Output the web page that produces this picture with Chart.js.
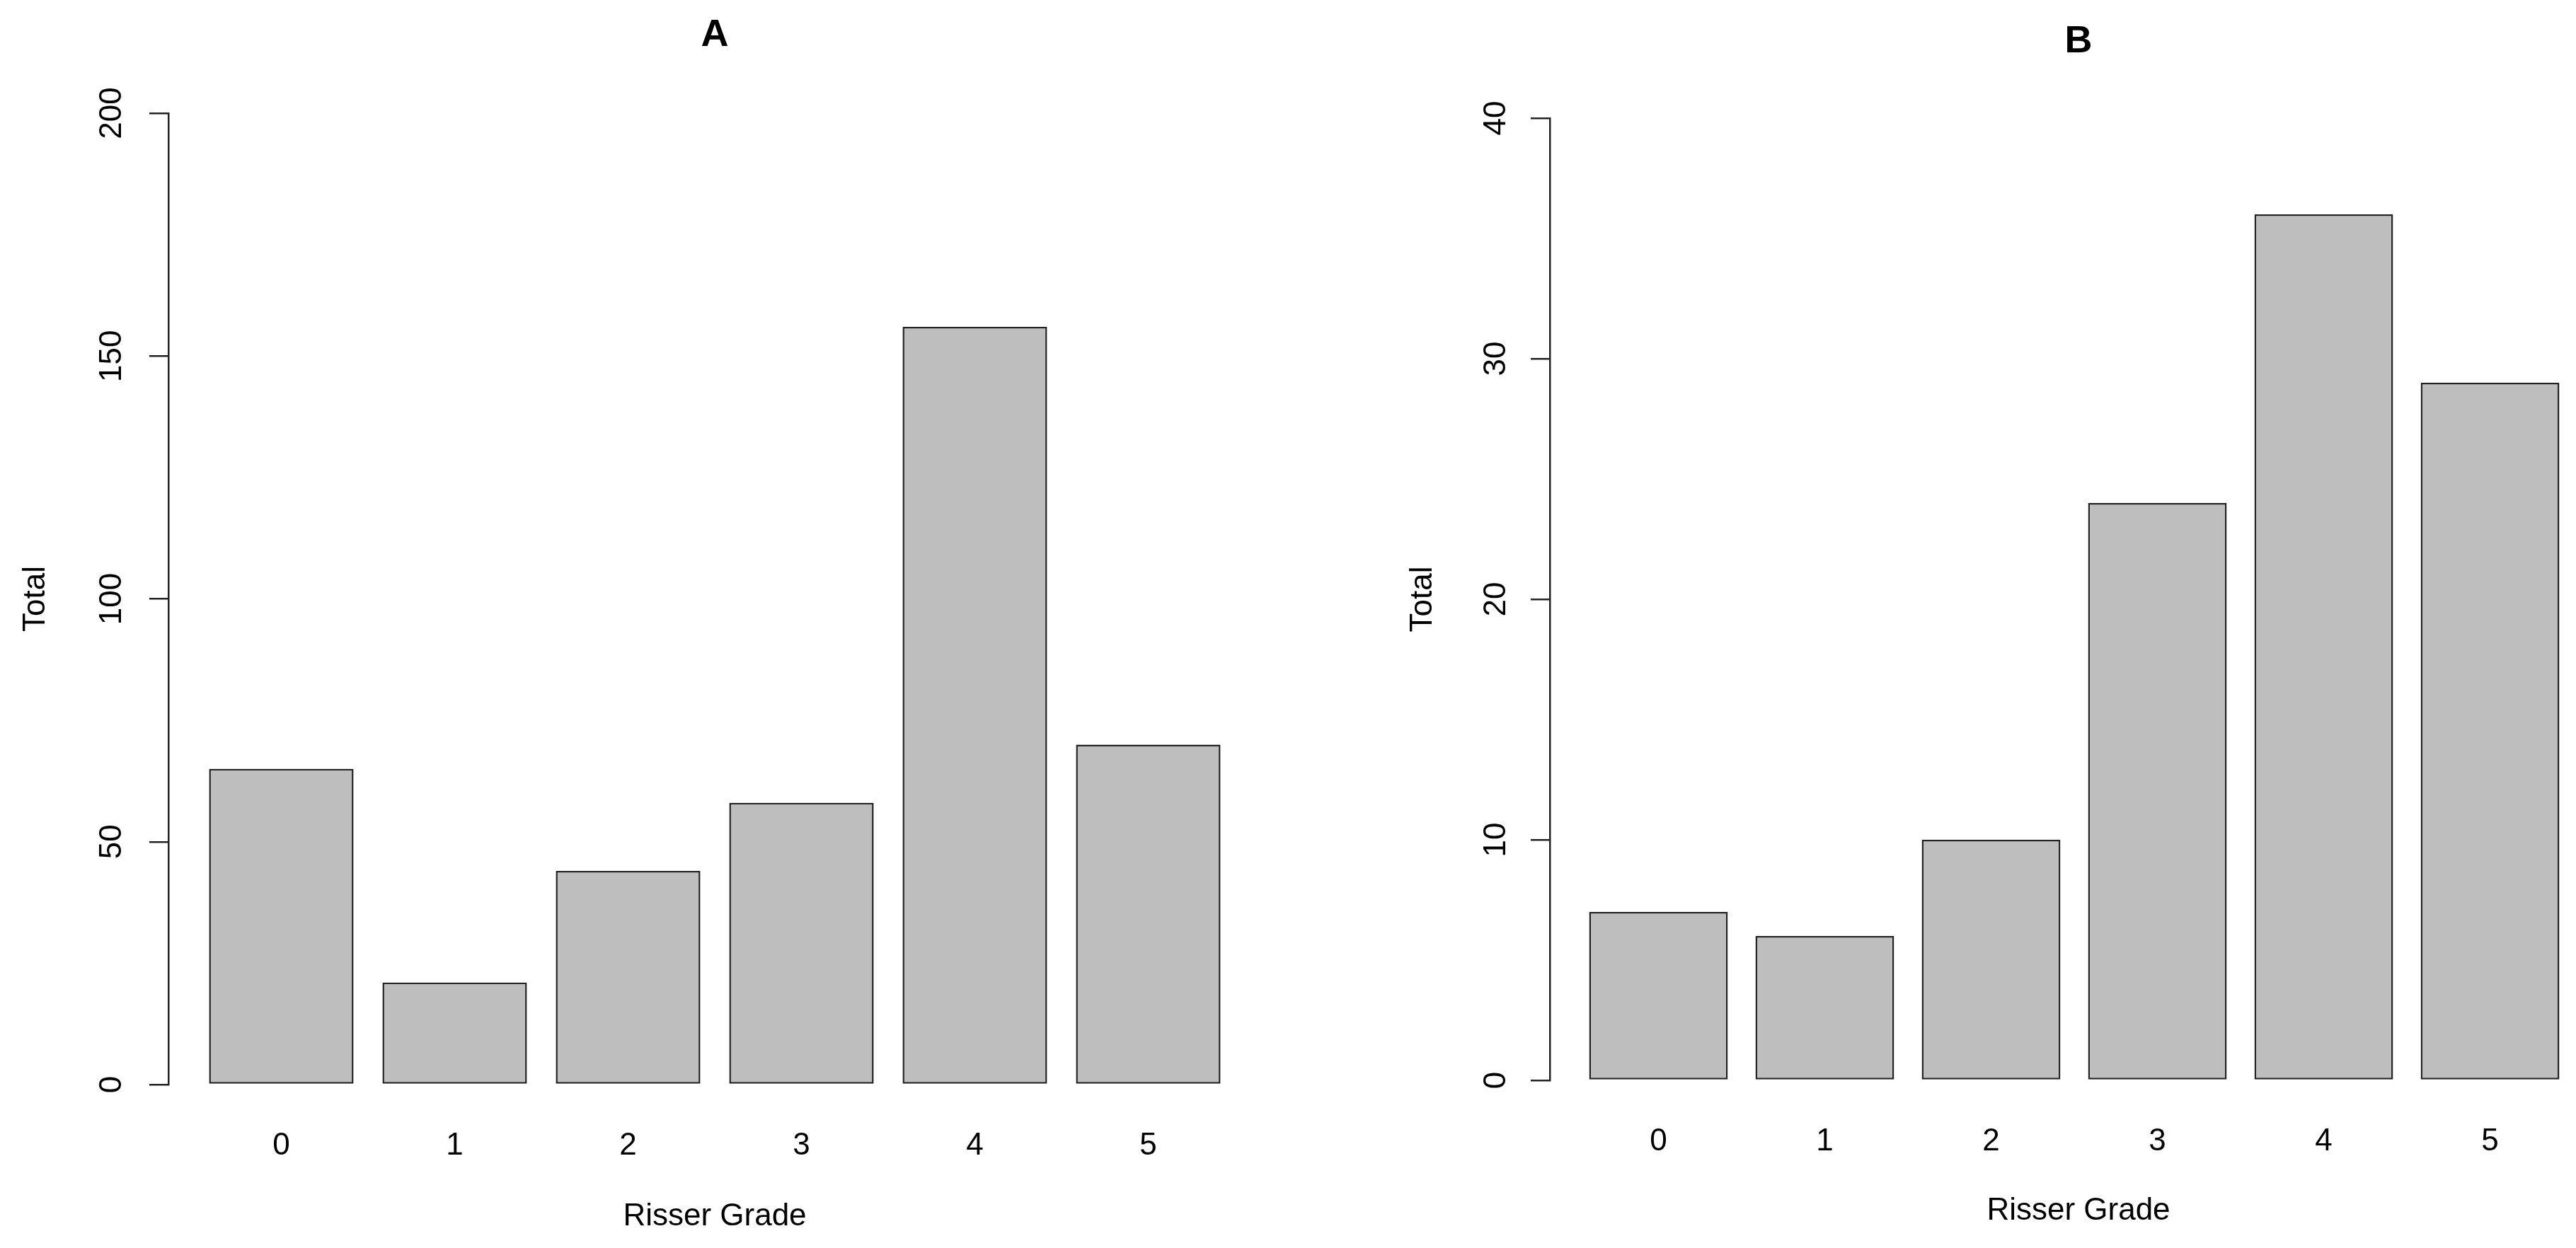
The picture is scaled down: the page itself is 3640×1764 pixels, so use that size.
<!DOCTYPE html>
<html>
<head>
<meta charset="utf-8">
<script src="https://cdn.jsdelivr.net/npm/chart.js@4.4.1/dist/chart.umd.min.js"></script>
<style>
  html, body { margin: 0; padding: 0; background: #fff; overflow: hidden; }
  body { width: 3640px; height: 1764px; position: relative; }
  canvas { position: absolute; top: 0; }
  #panelA { left: 0; }
  #panelB { left: 1820px; }
</style>
</head>
<body>
<canvas id="panelA" width="1820" height="1764"></canvas>
<canvas id="panelB" width="1880" height="1764"></canvas>
<script>
//DATA
const riserGrades   = ['0', '1', '2', '3', '4', '5'];
const totalsA       = [65, 21, 44, 58, 156, 70];
const totalsB       = [7, 6, 10, 24, 36, 29];
const yMaxA         = 200;
const yStepA        = 50;
const yMaxB         = 40;
const yStepB        = 10;

//STYLE
const FONT      = '"Liberation Sans", Arial, Helvetica, sans-serif';
const INK       = '#000';
const LINE      = '#222';
const BAR_FILL  = '#bebebe';

function makePanel(canvas, cfg){
    const data = {
        datasets: [{
            data: cfg.values.map((v, i) => ({x: i, y: v})),
            backgroundColor: BAR_FILL,
            borderColor: LINE,
            borderWidth: 2.5,
            borderSkipped: false,
            categoryPercentage: 1,
            barPercentage: 1 / 1.2,
        }]
    };
    const config = {
        type: 'bar',
        data: data,
        options: {
            responsive: false,
            animation: false,
            devicePixelRatio: 1,
            layout: { padding: { left: 0, top: 0, bottom: 0, right: cfg.padRight } },
            plugins: {
                legend: { display: false },
                tooltip: { enabled: false },
                title: {
                    display: true,
                    text: cfg.title,
                    fullSize: false,
                    color: INK,
                    font: { family: FONT, size: 54, weight: 'bold', lineHeight: 1.2 },
                    padding: { top: cfg.titleTop, bottom: cfg.titleBottom },
                }
            },
            scales: {
                x: {
                    type: 'linear',
                    offset: false,
                    min: cfg.xMin,
                    max: cfg.xMax,
                    grid: { display: false },
                    border: { display: false },
                    afterBuildTicks: s => { s.ticks = riserGrades.map((g, i) => ({value: i})); },
                    afterFit: s => { s.height = cfg.xAxisHeight; },
                    ticks: {
                        autoSkip: false,
                        color: INK,
                        padding: 52,
                        maxRotation: 0,
                        font: { family: FONT, size: 44, lineHeight: 1.2 },
                        callback: v => riserGrades[v],
                    },
                    title: {
                        display: true,
                        text: 'Risser Grade',
                        color: INK,
                        font: { family: FONT, size: 44, lineHeight: 1.2 },
                        padding: { top: 0, bottom: cfg.xTitleBottom },
                    }
                },
                y: {
                    min: 0,
                    max: cfg.yMax,
                    afterFit: s => { s.width = cfg.yAxisWidth; },
                    grid: {
                        display: true,
                        drawOnChartArea: false,
                        drawTicks: true,
                        tickLength: 27,
                        color: LINE,
                        lineWidth: 2.5,
                    },
                    border: { display: true, color: LINE, width: 2.5 },
                    ticks: {
                        stepSize: cfg.yStep,
                        color: INK,
                        minRotation: 90,
                        maxRotation: 90,
                        crossAlign: 'center',
                        padding: cfg.yTickPad,
                        font: { family: FONT, size: 44, lineHeight: 1.2 },
                    },
                    title: {
                        display: true,
                        text: 'Total',
                        color: INK,
                        font: { family: FONT, size: 44, lineHeight: 1.2 },
                        padding: { top: cfg.yTitleTop, bottom: 0 },
                    }
                }
            }
        }
    };
    return new Chart(canvas, config);
}

//PANEL A
makePanel(document.querySelector('#panelA'), {
    title: 'A',
    values: totalsA,
    yMax: yMaxA,
    yStep: yStepA,
    xMin: -0.651,
    xMax: 5.651,
    padRight: 38,
    titleTop: 17.6,
    titleBottom: 77.6,
    xAxisHeight: 231,
    xTitleBottom: 17.6,
    yAxisWidth: 238,
    yTickPad: 15,
    yTitleTop: 24.6,
});

//PANEL B
makePanel(document.querySelector('#panelB'), {
    title: 'B',
    values: totalsB,
    yMax: yMaxB,
    yStep: yStepB,
    xMin: -0.653,
    xMax: 5.704,
    padRight: 16,
    titleTop: 26.6,
    titleBottom: 75.6,
    xAxisHeight: 237,
    xTitleBottom: 25.6,
    yAxisWidth: 370,
    yTickPad: 23.5,
    yTitleTop: 164.6,
});
</script>
</body>
</html>
